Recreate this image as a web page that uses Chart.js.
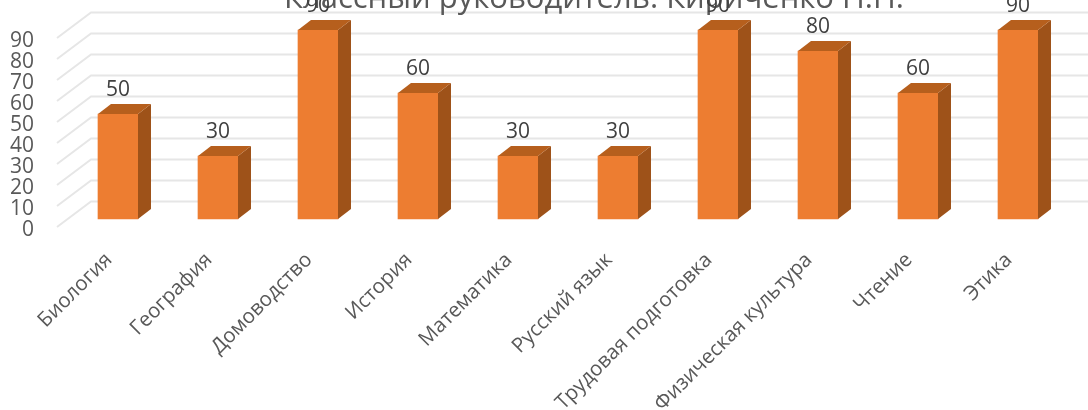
<!DOCTYPE html>
<html>
<head>
<meta charset="utf-8">
<script src="https://cdn.jsdelivr.net/npm/chart.js@4"></script>
<style>
html, body { margin: 0; padding: 0; background: #fff; overflow: hidden; }
canvas { display: block; }
</style>
</head>
<body>
<canvas id="chart" width="1088" height="410"></canvas>
<script>
const titleText = 'Классный руководитель: Кириченко Н.Н.';
const categories = ['Биология', 'География', 'Домоводство', 'История', 'Математика', 'Русский язык', 'Трудовая подготовка', 'Физическая культура', 'Чтение', 'Этика'];
const values = [50, 30, 90, 60, 30, 30, 90, 80, 60, 90];
const tickValues = [0, 10, 20, 30, 40, 50, 60, 70, 80, 90];

// fake 3d: side and top faces, back wall lines, value labels
const fake3d = {
    id: 'fake3d',
    beforeDatasetsDraw(chart) {
        const { ctx, scales } = chart;
        ctx.save();
        ctx.strokeStyle = '#e6e6e6';
        ctx.lineWidth = 2;
        tickValues.forEach(v => {
            const y = scales.y.getPixelForValue(v);
            ctx.beginPath();
            ctx.moveTo(57, y);
            ctx.lineTo(91, y - 25.5);
            ctx.lineTo(1088, y - 25.5);
            ctx.stroke();
        });
        ctx.restore();
    },
    afterDatasetsDraw(chart) {
        const { ctx } = chart;
        const bars = chart.getDatasetMeta(0).data;
        ctx.save();
        bars.forEach(bar => {
            const left = bar.x - bar.width / 2;
            const right = bar.x + bar.width / 2;
            ctx.fillStyle = '#9e5219';
            ctx.beginPath();
            ctx.moveTo(right, bar.y);
            ctx.lineTo(right + 13, bar.y - 10);
            ctx.lineTo(right + 13, bar.base - 10);
            ctx.lineTo(right, bar.base);
            ctx.closePath();
            ctx.fill();
            ctx.fillStyle = '#b65f1d';
            ctx.beginPath();
            ctx.moveTo(left, bar.y);
            ctx.lineTo(left + 13, bar.y - 10);
            ctx.lineTo(right + 13, bar.y - 10);
            ctx.lineTo(right, bar.y);
            ctx.closePath();
            ctx.fill();
        });
        ctx.fillStyle = '#595959';
        ctx.font = '31px "Open Sans"';
        ctx.textAlign = 'center';
        ctx.textBaseline = 'alphabetic';
        ctx.fillText(titleText, 594, 8);
        ctx.fillStyle = '#404040';
        ctx.font = '21px "Open Sans"';
        ctx.textBaseline = 'middle';
        bars.forEach((bar, i) => {
            ctx.fillText(values[i], bar.x, bar.y - 24);
        });
        ctx.restore();
    }
};

new Chart(document.getElementById('chart'), {
    type: 'bar',
    data: {
        labels: categories,
        datasets: [{
            data: values,
            yAxisID: 'yBars',
            backgroundColor: '#ed7d31',
            barThickness: 40
        }]
    },
    options: {
        responsive: false,
        animation: false,
        layout: { padding: { top: 12.8, right: 20 } },
        plugins: { legend: { display: false }, title: { display: false }, tooltip: { enabled: false } },
        scales: {
            x: {
                grid: { display: false },
                border: { display: false },
                afterFit: s => { s.height = 183; },
                ticks: {
                    autoSkip: false,
                    minRotation: 45,
                    maxRotation: 45,
                    padding: 13,
                    labelOffset: -9,
                    color: '#595959',
                    font: { family: 'Open Sans', size: 20.5 }
                }
            },
            y: {
                min: 0,
                max: 102,
                afterFit: s => { s.width = 68; s.paddingTop = 0; s.paddingBottom = 0; },
                afterBuildTicks: s => { s.ticks = tickValues.map(value => ({ value })); },
                grid: { display: false },
                border: { display: false },
                ticks: {
                    autoSkip: false,
                    padding: 26,
                    labelOffset: 3,
                    color: '#595959',
                    font: { family: 'Open Sans', size: 21 }
                }
            },
            yBars: {
                display: false,
                min: -3.8,
                max: 98.2
            }
        }
    },
    plugins: [fake3d]
});
</script>
</body>
</html>
